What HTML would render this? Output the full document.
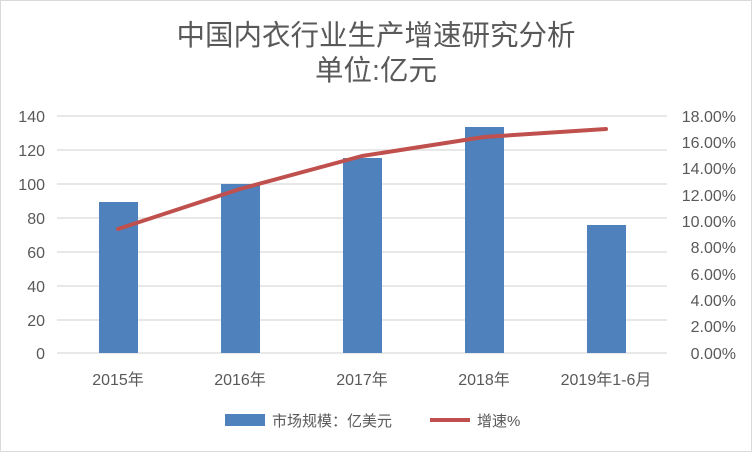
<!DOCTYPE html>
<html><head><meta charset="utf-8"><style>
body{margin:0;background:#fff}
svg text{font-family:"Liberation Sans","Noto Sans CJK SC",sans-serif;fill:#595959}
</style></head><body>
<svg width="752" height="452" xmlns="http://www.w3.org/2000/svg">
<rect x="0.5" y="0.5" width="751" height="451" fill="#fff" stroke="#d9d9d9"/>
<text x="376" y="45" font-size="28.5" text-anchor="middle">中国内衣行业生产增速研究分析</text>
<text x="376" y="80" font-size="28.5" text-anchor="middle">单位:亿元</text>
<g stroke="#d9d9d9" stroke-width="1.3">
<line x1="57" x2="667" y1="116" y2="116"/><line x1="57" x2="667" y1="150" y2="150"/>
<line x1="57" x2="667" y1="184" y2="184"/><line x1="57" x2="667" y1="218" y2="218"/>
<line x1="57" x2="667" y1="252" y2="252"/><line x1="57" x2="667" y1="286" y2="286"/>
<line x1="57" x2="667" y1="320" y2="320"/><line x1="57" x2="667" y1="353" y2="353"/>
</g>
<g font-size="16" text-anchor="end">
<text x="45" y="122">140</text><text x="45" y="156">120</text><text x="45" y="190">100</text>
<text x="45" y="224">80</text><text x="45" y="258">60</text><text x="45" y="292">40</text>
<text x="45" y="326">20</text><text x="45" y="359">0</text>
</g>
<g font-size="16" text-anchor="end">
<text x="736" y="122">18.00%</text><text x="736" y="148">16.00%</text><text x="736" y="174">14.00%</text>
<text x="736" y="201">12.00%</text><text x="736" y="227">10.00%</text><text x="736" y="253">8.00%</text>
<text x="736" y="280">6.00%</text><text x="736" y="306">4.00%</text><text x="736" y="332">2.00%</text>
<text x="736" y="359">0.00%</text>
</g>
<g fill="#4f81bd">
<rect x="99" y="202" width="39" height="151"/>
<rect x="221" y="184" width="39" height="169"/>
<rect x="343" y="158" width="39" height="195"/>
<rect x="465" y="127" width="39" height="226"/>
<rect x="587" y="225" width="39" height="128"/>
</g>
<polyline points="118,229 240,189 362,156 484,137 606,129" fill="none" stroke="#c0504d" stroke-width="4" stroke-linecap="round" stroke-linejoin="round"/>
<g font-size="16" text-anchor="middle">
<text x="118" y="385">2015年</text><text x="240" y="385">2016年</text><text x="362" y="385">2017年</text>
<text x="484" y="385">2018年</text><text x="606" y="385">2019年1-6月</text>
</g>
<rect x="225" y="414" width="40" height="12" fill="#4f81bd"/>
<text x="272" y="426" font-size="15">市场规模：亿美元</text>
<line x1="430" x2="470" y1="420" y2="420" stroke="#c0504d" stroke-width="4"/>
<text x="477" y="426" font-size="15">增速%</text>
</svg>
</body></html>
